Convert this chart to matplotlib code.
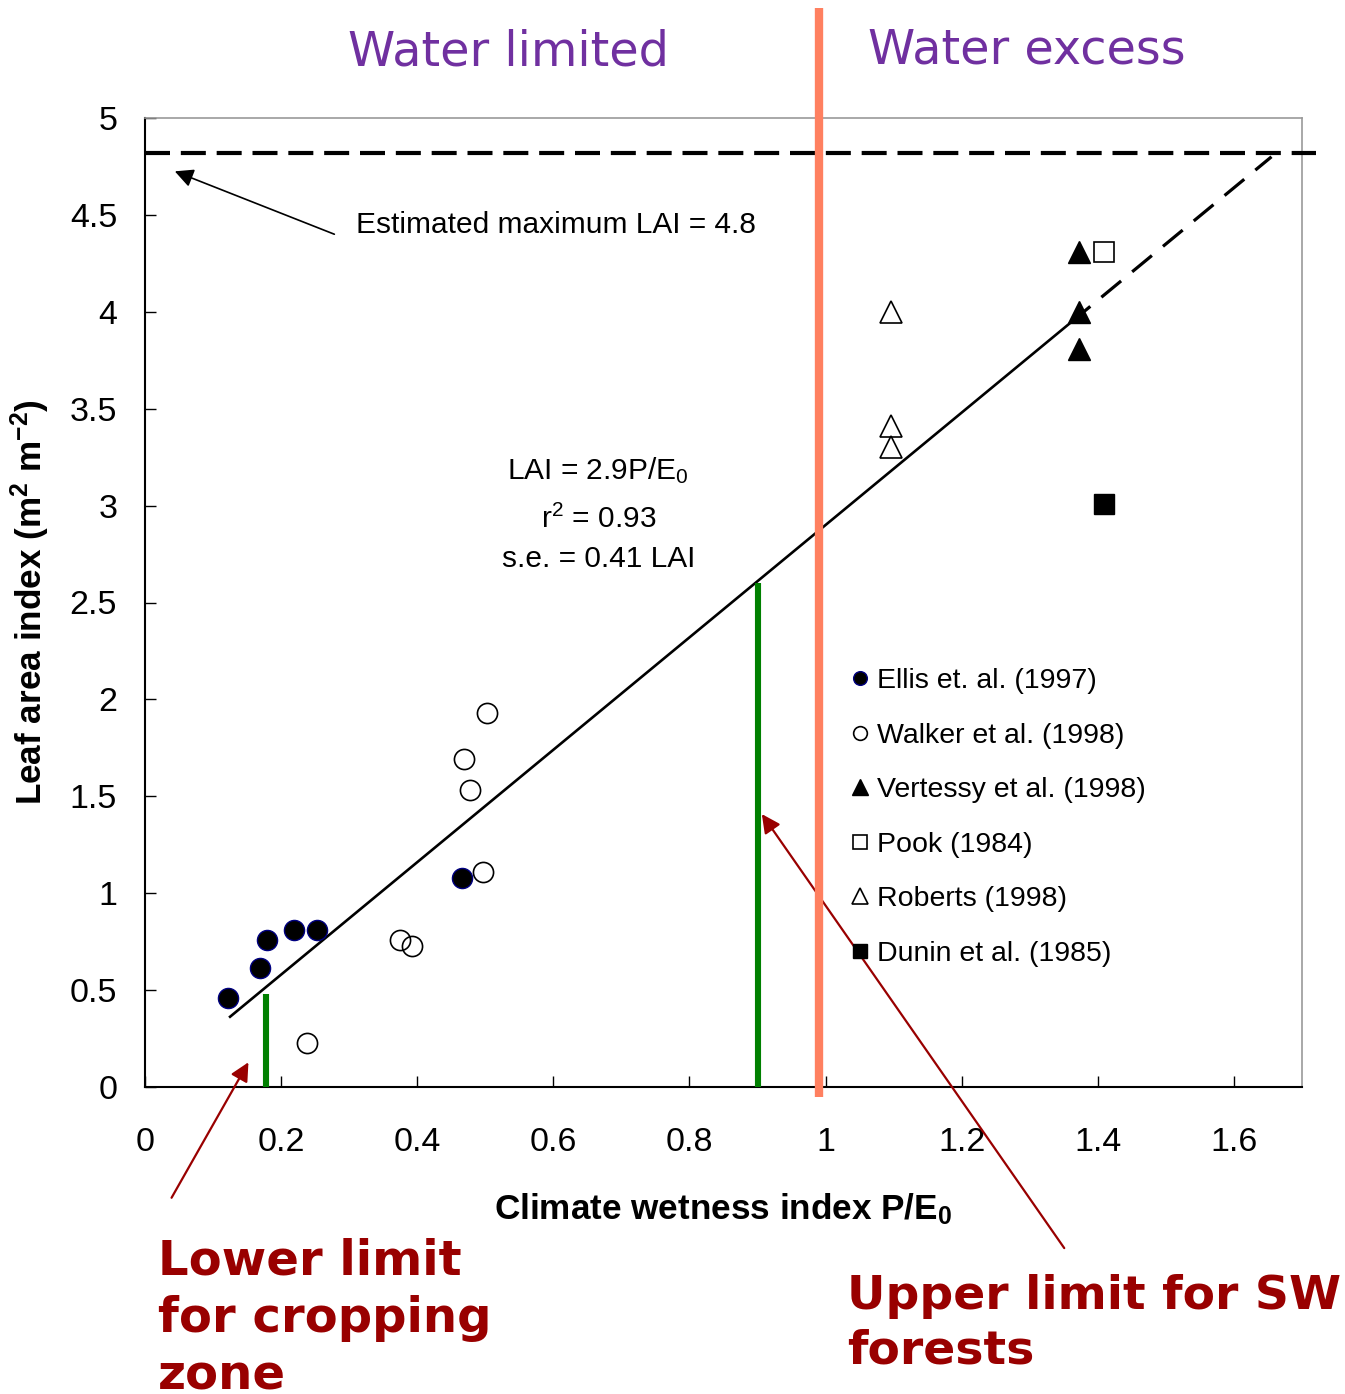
import matplotlib
matplotlib.use("Agg")
import matplotlib.pyplot as plt

plt.rcParams['font.family'] = ['Liberation Sans', 'DejaVu Sans']
plt.rcParams['mathtext.fontset'] = 'custom'
plt.rcParams['mathtext.rm'] = 'Liberation Sans'
plt.rcParams['mathtext.it'] = 'Liberation Sans:italic'
plt.rcParams['mathtext.bf'] = 'Liberation Sans:bold'

# data
ellis_x = [0.122, 0.169, 0.179, 0.219, 0.253, 0.466]
ellis_y = [0.46, 0.615, 0.76, 0.81, 0.81, 1.08]
walker_x = [0.238, 0.375, 0.393, 0.469, 0.478, 0.503, 0.496]
walker_y = [0.227, 0.76, 0.73, 1.69, 1.535, 1.93, 1.11]
vertessy_x = [1.372, 1.372, 1.372]
vertessy_y = [4.31, 4.0, 3.81]
pook_x = [1.409]
pook_y = [4.31]
roberts_x = [1.096, 1.096, 1.096]
roberts_y = [4.0, 3.41, 3.30]
dunin_x = [1.409]
dunin_y = [3.01]

slope = 2.9
fit_start, fit_end = 0.125, 1.36
max_lai = 4.8
green_limits_x = [0.178, 0.90]
green_limits_top = [0.48, 2.60]
water_split = 0.99

xticks = [0, 0.2, 0.4, 0.6, 0.8, 1, 1.2, 1.4, 1.6]
yticks = [0, 0.5, 1, 1.5, 2, 2.5, 3, 3.5, 4, 4.5, 5]

W, H = 1345, 1394
fig = plt.figure(figsize=(W / 100, H / 100), dpi=100)
ax = fig.add_axes([145 / W, 1 - 1087 / H, (1302 - 145) / W, (1087 - 118) / H])
ax.set_xlim(0, 1.7)
ax.set_ylim(0, 5)

# regression line and its dashed extrapolation
ax.plot([fit_start, fit_end], [slope * fit_start, slope * fit_end], color='black', lw=1.9, zorder=3)
ext_end = max_lai / slope
ax.plot([fit_end, ext_end], [slope * fit_end, slope * ext_end], color='black', lw=2.3,
        linestyle=(0, (8, 4.5)), zorder=3, clip_on=False)

# estimated maximum LAI
ax.plot([0, 1.72], [max_lai + 0.02, max_lai + 0.02], color='black', lw=3,
        linestyle=(0, (6, 2.6)), clip_on=False, zorder=3)

# green limits
for gx, gt in zip(green_limits_x, green_limits_top):
    ax.plot([gx, gx], [-0.02, gt], color='#008000', lw=4.4, solid_capstyle='butt', zorder=4)

# water limited / excess divider
ax.plot([water_split, water_split], [-0.05, 5.57], color='#FF8060', lw=6,
        solid_capstyle='butt', clip_on=False, zorder=5)

ms = 14.5
ax.plot(ellis_x, ellis_y, 'o', ms=ms, mfc='black', mec='#000080', mew=1, ls='none',
        label='Ellis et. al. (1997)', zorder=6)
ax.plot(walker_x, walker_y, 'o', ms=ms, mfc='none', mec='black', mew=1.2, ls='none',
        label='Walker et al. (1998)', zorder=6)
ax.plot(vertessy_x, vertessy_y, '^', ms=ms + 2, mfc='black', mec='black', mew=1, ls='none',
        label='Vertessy et al. (1998)', zorder=6)
ax.plot(pook_x, pook_y, 's', ms=ms - 0.5, mfc='white', mec='black', mew=1.2, ls='none',
        label='Pook (1984)', zorder=6)
ax.plot(roberts_x, roberts_y, '^', ms=ms + 2, mfc='none', mec='black', mew=1.2, ls='none',
        label='Roberts (1998)', zorder=6)
ax.plot(dunin_x, dunin_y, 's', ms=ms - 0.5, mfc='black', mec='black', mew=1, ls='none',
        label='Dunin et al. (1985)', zorder=6)

leg = ax.legend(loc='upper left', bbox_to_anchor=(0.6104, 0.432), frameon=False,
                fontsize=20.5, markerscale=0.68, handlelength=0.6, handletextpad=0.3,
                labelspacing=1.0, borderaxespad=0, borderpad=0)

# annotations
ax.annotate('', xy=(0.04, 4.73), xytext=(0.282, 4.395),
            arrowprops=dict(arrowstyle='-|>', color='black', lw=1.2, mutation_scale=28))
ax.text(0.31, 4.45, 'Estimated maximum LAI = 4.8', fontsize=21.5, va='center', ha='left')
ax.text(0.666, 3.18, 'LAI = 2.9P/E$_0$', fontsize=21.5, ha='center', va='center')
ax.text(0.666, 2.93, 'r$^2$ = 0.93', fontsize=21.5, ha='center', va='center')
ax.text(0.666, 2.725, 's.e. = 0.41 LAI', fontsize=21.5, ha='center', va='center')

red = '#990000'
ax.annotate('', xy=(0.154, 0.14), xytext=(0.037, -0.584), annotation_clip=False,
            arrowprops=dict(arrowstyle='-|>', color=red, lw=1.6, mutation_scale=28))
ax.annotate('', xy=(0.904, 1.42), xytext=(1.353, -0.843), annotation_clip=False,
            arrowprops=dict(arrowstyle='-|>', color=red, lw=1.6, mutation_scale=28))

# axes styling
ax.set_xticks(xticks)
ax.set_xticklabels(['0', '0.2', '0.4', '0.6', '0.8', '1', '1.2', '1.4', '1.6'])
ax.set_yticks(yticks)
ax.set_yticklabels(['0', '0.5', '1', '1.5', '2', '2.5', '3', '3.5', '4', '4.5', '5'])
ax.tick_params(direction='in', length=8, width=1, labelsize=24.5)
ax.tick_params(axis='x', pad=29)
ax.tick_params(axis='y', pad=20)
for s in ['left', 'bottom']:
    ax.spines[s].set_linewidth(1.5)
    ax.spines[s].set_color('black')
for s in ['top', 'right']:
    ax.spines[s].set_linewidth(1.2)
    ax.spines[s].set_color('#999999')

ax.set_xlabel('Climate wetness index P/E$_\\mathbf{0}$', fontsize=25.3, fontweight='bold', labelpad=24)
ax.set_ylabel('Leaf area index (m$^\\mathbf{2}$ m$^\\mathbf{-2}$)', fontsize=25.3, fontweight='bold')
ax.yaxis.set_label_coords(52 / W, 1 - 602 / H, transform=fig.transFigure)

purple = '#7030A0'
fig.text(508 / W, 1 - 52 / H, 'Water limited', color=purple, fontsize=34.4,
         family='DejaVu Sans', ha='center', va='center')
fig.text(1027 / W, 1 - 50 / H, 'Water excess', color=purple, fontsize=34.4,
         family='DejaVu Sans', ha='center', va='center')

fig.text(158 / W, 1 - 1389 / H, 'Lower limit\nfor cropping\nzone', color=red, fontsize=34.7,
         family='DejaVu Sans', fontweight='bold', ha='left', va='baseline', linespacing=1.28)
fig.text(847 / W, 1 - 1364 / H, 'Upper limit for SW\nforests', color=red, fontsize=34,
         family='DejaVu Sans', fontweight='bold', ha='left', va='baseline', linespacing=1.28)

fig.savefig('out.png', dpi=100)
